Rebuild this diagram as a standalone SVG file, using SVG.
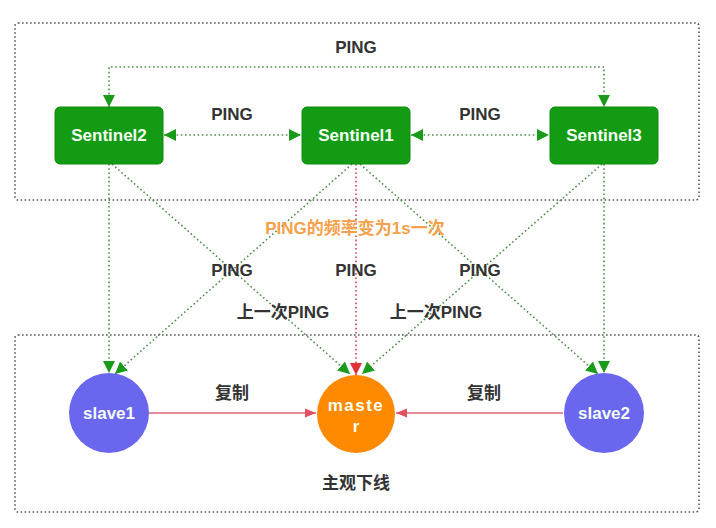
<svg xmlns="http://www.w3.org/2000/svg" width="716" height="528" viewBox="0 0 716 528">
<style>
.frame{fill:none;stroke:#555;stroke-width:1.6;stroke-dasharray:1.6 2.4}
.gl{fill:none;stroke:#4f8f4f;stroke-width:1.6;stroke-dasharray:1.6 2.6}
.rl{fill:none;stroke:#d04050;stroke-width:1.6;stroke-dasharray:1.6 2.6}
.cp{fill:none;stroke:#e06878;stroke-width:1.6}
.sent{fill:#149b14;stroke:#0e8a0e;stroke-width:1}
.nt{font-family:"Liberation Sans","Noto Sans CJK SC",sans-serif;font-weight:bold;font-size:17px;fill:#f4fff4;text-anchor:middle}
.lbl{font-family:"Liberation Sans","Noto Sans CJK SC",sans-serif;font-weight:bold;font-size:17px;fill:#333;text-anchor:middle}
.or{font-family:"Liberation Sans","Noto Sans CJK SC",sans-serif;font-weight:bold;font-size:17px;fill:#f5a04a;text-anchor:middle}
</style>
<defs>
<marker id="ga" viewBox="0 0 12 12" refX="12" refY="6" markerWidth="12" markerHeight="12" markerUnits="userSpaceOnUse" orient="auto-start-reverse"><path d="M0,0 L12,6 L0,12 z" fill="#1a9a1a"/></marker>
<marker id="ra" viewBox="0 0 12 12" refX="12" refY="6" markerWidth="12" markerHeight="12" markerUnits="userSpaceOnUse" orient="auto-start-reverse"><path d="M0,0 L12,6 L0,12 z" fill="#e0303a"/></marker>
<marker id="pa" viewBox="0 0 12 12" refX="12" refY="6" markerWidth="11" markerHeight="11" markerUnits="userSpaceOnUse" orient="auto"><path d="M0,1 L12,6 L0,11 z" fill="#e05060"/></marker>
</defs>
<rect width="716" height="528" fill="#fff"/>
<g id="frames">
<rect class="frame" x="15" y="23" width="684" height="177" rx="3"/>
<rect class="frame" x="15" y="335" width="684" height="177" rx="3"/>
</g>
<g id="connectors">
<path class="gl" d="M109,107 L109,67 L604,67 L604,107" marker-start="url(#ga)" marker-end="url(#ga)"/>
<line class="gl" x1="164" y1="135" x2="301" y2="135" marker-start="url(#ga)" marker-end="url(#ga)"/>
<line class="gl" x1="411" y1="135" x2="549" y2="135" marker-start="url(#ga)" marker-end="url(#ga)"/>
<line class="gl" x1="109" y1="164" x2="109" y2="373" marker-end="url(#ga)"/>
<line class="gl" x1="112" y1="164" x2="350" y2="374" marker-end="url(#ga)"/>
<line class="gl" x1="352" y1="164" x2="115" y2="374" marker-end="url(#ga)"/>
<line class="rl" x1="356" y1="164" x2="356" y2="375" marker-end="url(#ra)"/>
<line class="gl" x1="360" y1="164" x2="598" y2="374" marker-end="url(#ga)"/>
<line class="gl" x1="602" y1="164" x2="362" y2="374" marker-end="url(#ga)"/>
<line class="gl" x1="604" y1="164" x2="604" y2="373" marker-end="url(#ga)"/>
<line class="cp" x1="149" y1="413" x2="316" y2="413" marker-end="url(#pa)"/>
<line class="cp" x1="563" y1="413" x2="396" y2="413" marker-end="url(#pa)"/>
</g>
<g id="sentinel2"><rect class="sent" x="55" y="107" width="108" height="57" rx="5"/><text class="nt" x="109" y="141">Sentinel2</text></g>
<g id="sentinel1"><rect class="sent" x="302" y="107" width="108" height="57" rx="5"/><text class="nt" x="356" y="141">Sentinel1</text></g>
<g id="sentinel3"><rect class="sent" x="550" y="107" width="108" height="57" rx="5"/><text class="nt" x="604" y="141">Sentinel3</text></g>
<g id="slave1"><circle cx="109" cy="413" r="40" fill="#6a66ee"/><text class="nt" x="109" y="419">slave1</text></g>
<g id="master"><ellipse cx="356" cy="414" rx="39" ry="39" fill="#ff8a00"/><text class="nt" x="356" y="411" letter-spacing="1.5">maste</text><text class="nt" x="356" y="432">r</text></g>
<g id="slave2"><circle cx="604" cy="413" r="40" fill="#6a66ee"/><text class="nt" x="604" y="419">slave2</text></g>
<g id="labels">
<text class="lbl" x="356" y="53">PING</text>
<text class="lbl" x="232" y="120">PING</text>
<text class="lbl" x="480" y="120">PING</text>
<text class="or" x="355" y="234">PING的频率变为1s一次</text>
<text class="lbl" x="232" y="276">PING</text>
<text class="lbl" x="356" y="276">PING</text>
<text class="lbl" x="480" y="276">PING</text>
<text class="lbl" x="283" y="318">上一次PING</text>
<text class="lbl" x="436" y="318">上一次PING</text>
<text class="lbl" x="232" y="399">复制</text>
<text class="lbl" x="484" y="399">复制</text>
<text class="lbl" x="356" y="489">主观下线</text>
</g>
</svg>
